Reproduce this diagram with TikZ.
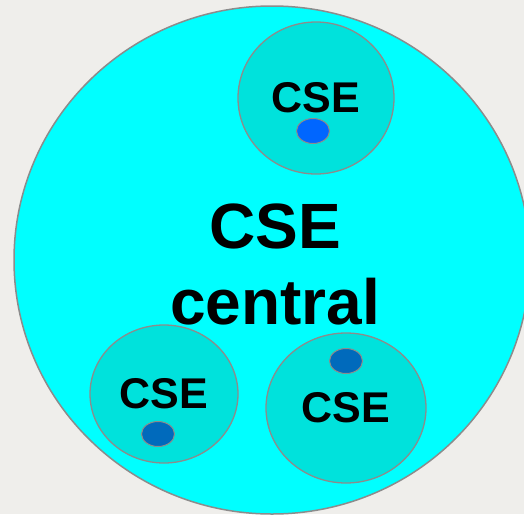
\documentclass[tikz,border=0pt]{standalone}
\usepackage{fontspec}
\setmainfont{Liberation Sans}
\usetikzlibrary{shapes.geometric}

\definecolor{paper}{HTML}{EFEEEB}
\definecolor{edgegray}{HTML}{8C8C8C}
\definecolor{zonecyan}{HTML}{00FFFF}
\definecolor{cellteal}{HTML}{00E2DC}
\definecolor{dotbright}{HTML}{0066FF}
\definecolor{dotdeep}{HTML}{006ABC}

\begin{document}
\begin{tikzpicture}[
    x=1pt, y=-1pt,
    zone/.style={
        ellipse,
        draw=edgegray,
        line width=1.5pt,
        fill=zonecyan,
        inner sep=0pt
    },
    cell/.style={
        ellipse,
        draw=edgegray,
        line width=1.3pt,
        fill=cellteal,
        inner sep=0pt,
        font=\fontsize{43}{48}\selectfont\bfseries
    },
    hub/.style={
        align=center,
        inner sep=0pt,
        font=\fontsize{64}{76}\selectfont\bfseries
    },
    dot/.style={
        ellipse,
        draw=edgegray,
        line width=1pt,
        inner sep=0pt,
        minimum width=33pt,
        minimum height=25pt
    }
]

% Page and clipping
\useasboundingbox (0,0) rectangle (524,514);
\fill[paper] (0,0) rectangle (524,514);
\clip (0,0) rectangle (524,514);

% Outer zone
\node[zone, minimum width=516pt, minimum height=508pt] (central) at (272,260) {};
\node[hub] (centrallabel) at (275,264) {CSE\\central};

% Member zones
\node[cell, minimum width=156pt, minimum height=152pt] (cse1) at (316,98) {CSE};
\node[cell, minimum width=148pt, minimum height=138pt] (cse2) at (164,394) {CSE};
\node[cell, minimum width=160pt, minimum height=150pt] (cse3) at (346,408) {CSE};

% Dots
\node[dot, fill=dotbright] (dot1) at (313,131) {};
\node[dot, fill=dotdeep] (dot2) at (158,434) {};
\node[dot, fill=dotdeep] (dot3) at (346,361) {};

\end{tikzpicture}
\end{document}
